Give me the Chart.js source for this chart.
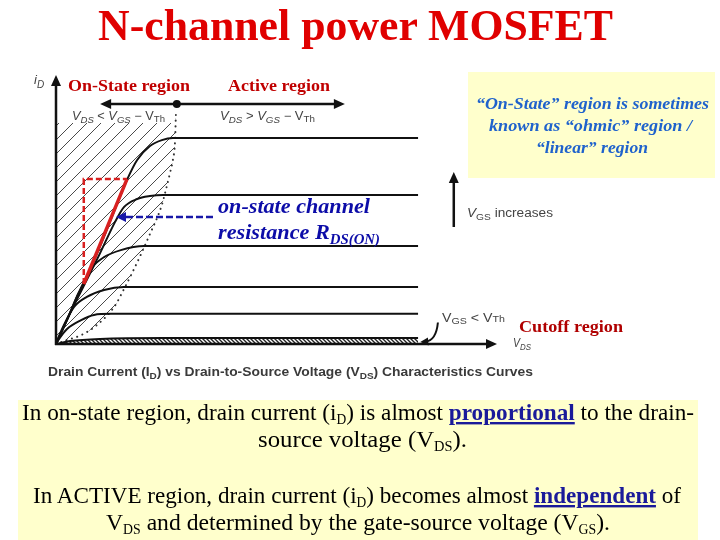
<!DOCTYPE html>
<html><head><meta charset="utf-8">
<script src="https://cdn.jsdelivr.net/npm/chart.js@4.4.1/dist/chart.umd.min.js"></script>
<style>
html,body{margin:0;padding:0;background:#fff;}
#wrap{position:relative;width:720px;height:540px;overflow:hidden;background:#fff;}
#c{position:absolute;left:0;top:0;}
#ov{position:absolute;left:0;top:0;pointer-events:none;}
</style></head><body>
<div id="wrap">
<canvas id="c" width="720" height="540"></canvas>
<svg id="ov" width="720" height="540" xmlns="http://www.w3.org/2000/svg">
  <rect x="468" y="72" width="247" height="106" fill="#ffffcc"/>
  <rect x="18" y="400" width="680" height="140" fill="#ffffcc"/>
  <g font-family="'Liberation Serif','Times New Roman',serif">
    <text x="98" y="40" font-size="44" font-weight="bold" fill="#e00000" textLength="515" lengthAdjust="spacingAndGlyphs">N-channel power MOSFET</text>
    <text x="68" y="91" font-size="16" font-weight="bold" fill="#c00000" textLength="122" lengthAdjust="spacingAndGlyphs">On-State region</text>
    <text x="228" y="91" font-size="16" font-weight="bold" fill="#c00000" textLength="102" lengthAdjust="spacingAndGlyphs">Active region</text>
    <g font-weight="bold" font-style="italic" fill="#1f62cc" font-size="16">
      <text x="476" y="109" textLength="233" lengthAdjust="spacingAndGlyphs">“On-State” region is sometimes</text>
      <text x="489" y="131" textLength="203" lengthAdjust="spacingAndGlyphs">known as “ohmic” region /</text>
      <text x="536" y="153" textLength="112" lengthAdjust="spacingAndGlyphs">“linear” region</text>
    </g>
    <g font-weight="bold" font-style="italic" fill="#0c0ca8">
      <text x="218" y="213" font-size="21" textLength="152" lengthAdjust="spacingAndGlyphs">on-state channel</text>
      <text x="218" y="239" font-size="21" textLength="162" lengthAdjust="spacingAndGlyphs">resistance R<tspan font-size="14" dy="5">DS(ON)</tspan></text>
    </g>
    <text x="519" y="332" font-size="16" font-weight="bold" fill="#b00000" textLength="104" lengthAdjust="spacingAndGlyphs">Cutoff region</text>
    <g font-size="24" fill="#000">
      <text x="22" y="420" textLength="672" lengthAdjust="spacingAndGlyphs">In on-state region, drain current (i<tspan font-size="14" dy="4">D</tspan><tspan dy="-4">) is almost </tspan><tspan font-weight="bold" fill="#1a1a9a" text-decoration="underline">proportional</tspan><tspan> to the drain-</tspan></text>
      <text x="258" y="447" textLength="209" lengthAdjust="spacingAndGlyphs">source voltage (V<tspan font-size="14" dy="4">DS</tspan><tspan dy="-4">).</tspan></text>
      <text x="33" y="503" textLength="648" lengthAdjust="spacingAndGlyphs">In ACTIVE region, drain current (i<tspan font-size="14" dy="4">D</tspan><tspan dy="-4">) becomes almost </tspan><tspan font-weight="bold" fill="#1a1a9a" text-decoration="underline">independent</tspan><tspan> of</tspan></text>
      <text x="106" y="530" textLength="504" lengthAdjust="spacingAndGlyphs">V<tspan font-size="14" dy="4">DS</tspan><tspan dy="-4"> and determined by the gate-source voltage (V</tspan><tspan font-size="14" dy="4">GS</tspan><tspan dy="-4">).</tspan></text>
    </g>
  </g>
  <g font-family="'Liberation Sans',Arial,sans-serif">
    <text x="48" y="376" font-weight="bold" font-size="12.5" fill="#3a3a3a" textLength="485" lengthAdjust="spacingAndGlyphs">Drain Current (I<tspan dy="3" font-size="9">D</tspan><tspan dy="-3">) vs Drain-to-Source Voltage (V</tspan><tspan dy="3" font-size="9">DS</tspan><tspan dy="-3">) Characteristics Curves</tspan></text>
    <g fill="#444" font-size="12">
      <text x="34" y="84" font-style="italic" font-size="13">i<tspan dy="4" font-size="10">D</tspan></text>
      <text x="72" y="120" textLength="93" lengthAdjust="spacingAndGlyphs"><tspan font-style="italic">V</tspan><tspan dy="3" font-size="9" font-style="italic">DS</tspan><tspan dy="-3"> &lt; </tspan><tspan font-style="italic">V</tspan><tspan dy="3" font-size="9" font-style="italic">GS</tspan><tspan dy="-3"> − V</tspan><tspan dy="2" font-size="9">Th</tspan></text>
      <text x="220" y="120" textLength="95" lengthAdjust="spacingAndGlyphs"><tspan font-style="italic">V</tspan><tspan dy="3" font-size="9" font-style="italic">DS</tspan><tspan dy="-3"> &gt; </tspan><tspan font-style="italic">V</tspan><tspan dy="3" font-size="9" font-style="italic">GS</tspan><tspan dy="-3"> − V</tspan><tspan dy="2" font-size="9">Th</tspan></text>
      <text x="442" y="322" textLength="63" lengthAdjust="spacingAndGlyphs">V<tspan dy="2" font-size="9">GS</tspan><tspan dy="-2">  &lt;  V</tspan><tspan font-size="9">Th</tspan></text>
      <text x="513" y="347" textLength="18" lengthAdjust="spacingAndGlyphs"><tspan font-style="italic">V</tspan><tspan dy="3" font-size="9" font-style="italic">DS</tspan></text>
      <text x="467" y="217" textLength="86" lengthAdjust="spacingAndGlyphs"><tspan font-style="italic">V</tspan><tspan dy="3" font-size="9">GS</tspan><tspan dy="-3">    increases</tspan></text>
    </g>
  </g>
</svg>
</div>
<script>
// ---- Data (VDS in arbitrary units, iD in arbitrary units) ----
const vdsCurve1 = [0, 0.27, 0.50, 0.63, 1.13, 1.61, 1.84, 2.13, 2.40, 2.65, 8.21];
const idCurve1  = [0, 0.97, 1.85, 2.23, 4.16, 6.10, 6.84, 7.36, 7.58, 7.66, 7.66];
const vdsCurve2 = [0, 0.27, 0.63, 1.00, 1.34, 1.54, 1.84, 2.13, 2.43, 8.21];
const idCurve2  = [0, 0.97, 2.16, 3.38, 4.54, 5.09, 5.39, 5.50, 5.54, 5.54];
const vdsCurve3 = [0, 0.27, 0.50, 0.63, 0.82, 1.09, 1.47, 2.00, 8.21];
const idCurve3  = [0, 0.97, 1.85, 2.30, 2.85, 3.23, 3.49, 3.64, 3.64];
const vdsCurve4 = [0, 0.07, 0.18, 0.41, 0.70, 1.09, 1.54, 8.21];
const idCurve4  = [0, 0.30, 0.71, 1.38, 1.75, 2.01, 2.12, 2.12];
const vdsCurve5 = [0, 0.07, 0.25, 0.57, 0.86, 1.25, 8.21];
const idCurve5  = [0, 0.19, 0.56, 0.89, 1.08, 1.12, 1.12];
const vdsCutoff = [0, 0.32, 1.00, 2.45, 8.21];
const idCutoff  = [0, 0.11, 0.19, 0.22, 0.22];
const vdsBoundary = [0, 0.25, 0.57, 0.93, 1.32, 1.54, 1.77, 1.95, 2.15, 2.29, 2.40, 2.49, 2.59, 2.65, 2.70, 2.72];
const idBoundary  = [0, 0.15, 0.33, 0.71, 1.38, 2.04, 2.79, 3.42, 4.16, 4.68, 5.17, 5.72, 6.39, 6.84, 7.58, 8.62];
const vdsRdsBox = [0.63, 0.63, 1.61];
const idRdsBox  = [2.23, 6.13, 6.13];
const vdsRdsLine = [1.61, 0.63];
const idRdsLine  = [6.13, 2.23];
const onStateTop = 8.22;

const pts = (xs, ys) => xs.map((x, i) => ({x: x, y: ys[i]}));

function makePattern(size, color, lw, dir) {
  const c = document.createElement('canvas');
  c.width = size; c.height = size;
  const g = c.getContext('2d');
  g.strokeStyle = color; g.lineWidth = lw;
  g.beginPath();
  if (dir === 'up') {
    g.moveTo(-1, size + 1); g.lineTo(size + 1, -1);
    g.moveTo(-1, 1); g.lineTo(1, -1);
    g.moveTo(size - 1, size + 1); g.lineTo(size + 1, size - 1);
  } else {
    g.moveTo(-1, -1); g.lineTo(size + 1, size + 1);
    g.moveTo(size - 1, -1); g.lineTo(size + 1, 1);
    g.moveTo(-1, size - 1); g.lineTo(1, size + 1);
  }
  g.stroke();
  return g.createPattern(c, 'repeat');
}
const hatch = makePattern(14, '#4a4a4a', 1, 'up');
const dense = makePattern(4, '#222', 1.4, 'down');

function curve(xs, ys, order) {
  return {data: pts(xs, ys), borderColor: '#111', borderWidth: 2, showLine: true,
    pointRadius: 0, cubicInterpolationMode: 'monotone', fill: false, order: order, clip: false};
}

function head(ctx, tx, ty, ang, len, hw) {
  ctx.beginPath();
  ctx.moveTo(tx, ty);
  ctx.lineTo(tx - len * Math.cos(ang) + hw * Math.sin(ang), ty - len * Math.sin(ang) - hw * Math.cos(ang));
  ctx.lineTo(tx - len * Math.cos(ang) - hw * Math.sin(ang), ty - len * Math.sin(ang) + hw * Math.cos(ang));
  ctx.closePath();
  ctx.fill();
}

const annot = {
  id: 'annot',
  afterDatasetsDraw(chart) {
    const ctx = chart.ctx, xs = chart.scales.x, ys = chart.scales.y;
    const P = (x, y) => [xs.getPixelForValue(x), ys.getPixelForValue(y)];
    ctx.save();
    ctx.strokeStyle = '#111'; ctx.fillStyle = '#111'; ctx.lineWidth = 2.5; ctx.setLineDash([]);
    // axes
    let a = P(0, 0), b = P(0, 9.7), t = P(0, 10);
    ctx.beginPath(); ctx.moveTo(a[0], a[1] + 1); ctx.lineTo(b[0], b[1]); ctx.stroke();
    head(ctx, t[0], t[1], -Math.PI / 2, 11, 5);
    b = P(9.8, 0); t = P(10, 0);
    ctx.beginPath(); ctx.moveTo(a[0] - 1, a[1]); ctx.lineTo(b[0], b[1]); ctx.stroke();
    head(ctx, t[0], t[1], 0, 11, 5);
    // region double arrow
    const l = P(1.0, 8.92), r = P(6.55, 8.92), d = P(2.74, 8.92);
    ctx.beginPath(); ctx.moveTo(l[0] + 8, l[1]); ctx.lineTo(r[0] - 8, r[1]); ctx.stroke();
    head(ctx, l[0], l[1], Math.PI, 11, 5);
    head(ctx, r[0], r[1], 0, 11, 5);
    ctx.beginPath(); ctx.arc(d[0], d[1], 4, 0, Math.PI * 2); ctx.fill();
    // VGS increases arrow
    const vb = P(9.02, 4.35), vt = P(9.02, 6.39);
    ctx.beginPath(); ctx.moveTo(vb[0], vb[1]); ctx.lineTo(vt[0], vt[1] + 8); ctx.stroke();
    head(ctx, vt[0], vt[1], -Math.PI / 2, 11, 5);
    // curved arrow to cutoff curve
    const cs = P(8.66, 0.80), cc = P(8.62, 0.12), ce = P(8.26, 0.07);
    ctx.lineWidth = 2;
    ctx.beginPath(); ctx.moveTo(cs[0], cs[1]); ctx.quadraticCurveTo(cc[0], cc[1], ce[0] + 5, ce[1] - 0.5); ctx.stroke();
    head(ctx, ce[0], ce[1], Math.atan2(ce[1] - cc[1], ce[0] - cc[0]), 8, 4);
    // blue dashed arrow
    const bs = P(3.56, 4.72), be = P(1.36, 4.72);
    ctx.strokeStyle = '#1818a8'; ctx.fillStyle = '#1818a8'; ctx.lineWidth = 2.5;
    ctx.setLineDash([7, 3]);
    ctx.beginPath(); ctx.moveTo(bs[0], bs[1]); ctx.lineTo(be[0] + 8, be[1]); ctx.stroke();
    ctx.setLineDash([]);
    head(ctx, be[0], be[1], Math.PI, 10, 5);
    ctx.restore();
  }
};

new Chart(document.getElementById('c'), {
  type: 'scatter',
  data: {
    datasets: [
      {data: pts(vdsRdsLine, idRdsLine), borderColor: '#d82020', borderWidth: 3.5, showLine: true, pointRadius: 0, tension: 0, order: 1, clip: false},
      {data: pts(vdsRdsBox, idRdsBox), borderColor: '#d82020', borderWidth: 2.5, borderDash: [6, 3], showLine: true, pointRadius: 0, tension: 0, order: 2, clip: false},
      curve(vdsCurve1, idCurve1, 4),
      curve(vdsCurve2, idCurve2, 4),
      curve(vdsCurve3, idCurve3, 4),
      curve(vdsCurve4, idCurve4, 4),
      curve(vdsCurve5, idCurve5, 4),
      {data: pts(vdsBoundary, idBoundary), borderColor: '#333', borderWidth: 2, borderDash: [0.1, 5.5], borderCapStyle: 'round',
        showLine: true, pointRadius: 0, cubicInterpolationMode: 'monotone', fill: {value: onStateTop}, backgroundColor: hatch, order: 10, clip: false},
      {data: pts(vdsCutoff, idCutoff), borderColor: '#111', borderWidth: 2, showLine: true, pointRadius: 0,
        cubicInterpolationMode: 'monotone', fill: 'origin', backgroundColor: dense, order: 9, clip: false}
    ]
  },
  options: {
    responsive: false, animation: false, devicePixelRatio: 1,
    layout: {padding: {left: 56, top: 75, right: 223, bottom: 196}},
    scales: {
      x: {type: 'linear', min: 0, max: 10, display: false},
      y: {type: 'linear', min: 0, max: 10, display: false}
    },
    plugins: {legend: {display: false}, tooltip: {enabled: false}}
  },
  plugins: [annot]
});
</script>
</body></html>
